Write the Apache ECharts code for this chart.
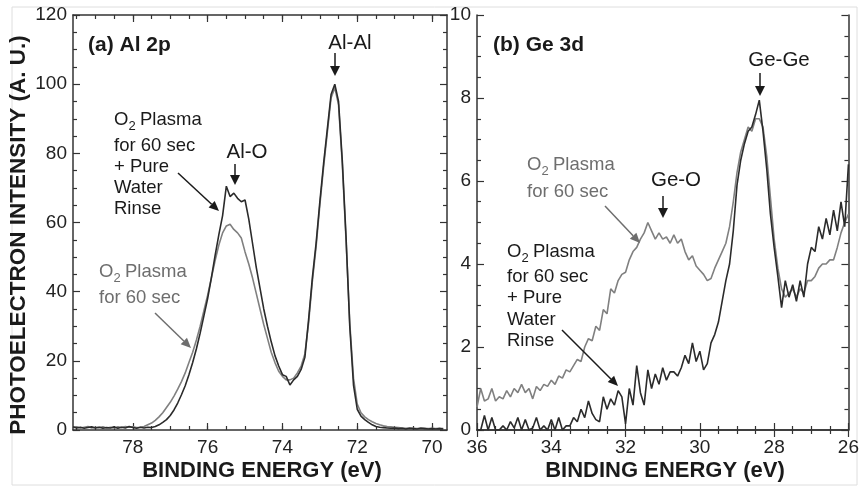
<!DOCTYPE html>
<html>
<head>
<meta charset="utf-8">
<script src="https://cdn.jsdelivr.net/npm/echarts@6/dist/echarts.min.js"></script>
<style>
  html, body { margin: 0; padding: 0; background: #fff; }
  #chart { width: 862px; height: 488px; }
</style>
</head>
<body>
<div id="chart"></div>
<script>
// (a) Al 2p -- binding energy (eV), descending
const alEnergy = [
  79.6, 79.5, 79.4, 79.3, 79.2, 79.1, 79.0, 78.9, 78.8, 78.7,
  78.6, 78.5, 78.4, 78.3, 78.2, 78.1, 78.0, 77.9, 77.8, 77.7,
  77.6, 77.5, 77.4, 77.3, 77.2, 77.1, 77.0, 76.9, 76.8, 76.7,
  76.6, 76.5, 76.4, 76.3, 76.2, 76.1, 76.0, 75.9, 75.8, 75.7,
  75.6, 75.5, 75.4, 75.3, 75.2, 75.1, 75.0, 74.9, 74.8, 74.7,
  74.6, 74.5, 74.4, 74.3, 74.2, 74.1, 74.0, 73.9, 73.8, 73.7,
  73.6, 73.5, 73.4, 73.3, 73.2, 73.1, 73.0, 72.9, 72.8, 72.7,
  72.6, 72.5, 72.4, 72.3, 72.2, 72.1, 72.0, 71.9, 71.8, 71.7,
  71.6, 71.5, 71.4, 71.3, 71.2, 71.1, 71.0, 70.9, 70.8, 70.7,
  70.6, 70.5, 70.4, 70.3, 70.2, 70.1, 70.0, 69.9, 69.8, 69.7
];
// O2 plasma 60 sec + pure water rinse
const alRinse = [
  0.9, 0.6, 0.8, 0.5, 0.7, 0.9, 0.6, 0.8, 0.5, 0.7,
  0.6, 0.9, 0.5, 0.8, 0.6, 1.0, 0.7, 0.5, 0.8, 0.6,
  0.8, 0.7, 1.0, 1.5, 2.2, 3.0, 4.2, 5.8, 7.8, 10.2,
  12.8, 16.0, 19.5, 23.5, 28.0, 33.0, 38.0, 44.0, 50.5, 56.5,
  62.0, 70.5, 67.5, 68.5, 67.0, 66.0, 66.5, 61.0, 54.0, 47.0,
  41.0, 35.0, 30.0, 25.5, 21.5, 18.5, 16.0, 15.5, 13.0, 14.5,
  15.5, 17.5, 21.0, 32.0, 44.0, 54.0, 66.0, 77.0, 87.0, 97.0,
  100.0, 95.0, 78.0, 56.0, 30.0, 13.0, 6.0, 4.0, 3.0, 2.2,
  1.5, 1.0, 0.8, 0.7, 0.6, 0.5, 0.6, 0.4, 0.5, 0.3,
  0.5, 0.4, 0.3, 0.5, 0.4, 0.3, 0.4, 0.3, 0.4, 0.3
];
// O2 plasma 60 sec
const alPlasma = [
  0.7, 0.9, 0.6, 0.8, 1.0, 0.6, 0.8, 0.7, 0.9, 0.6,
  0.8, 0.6, 0.9, 0.7, 1.0, 0.8, 0.9, 0.7, 0.8, 1.0,
  1.5, 2.0, 2.8, 3.8, 5.0, 6.5, 8.0, 9.8, 11.8, 14.0,
  16.5, 19.5, 22.5, 26.0, 30.0, 34.5, 39.0, 44.0, 49.0, 53.5,
  57.0, 59.0, 59.5, 58.0, 57.0, 55.5, 51.5, 48.0, 44.0, 39.5,
  35.0, 30.5, 26.5, 22.5, 19.5, 17.0, 15.5, 14.5, 14.5, 15.0,
  16.5, 18.5, 22.0, 31.0, 43.0, 53.0, 65.0, 76.0, 86.0, 96.0,
  99.0, 94.0, 77.0, 55.0, 31.0, 15.0, 7.5, 5.0, 3.8, 3.0,
  2.4, 1.9, 1.5, 1.2, 1.0, 0.9, 0.8, 0.7, 0.6, 0.5,
  0.6, 0.5, 0.4, 0.6, 0.5, 0.4, 0.5, 0.4, 0.5, 0.4
];

// (b) Ge 3d
const geEnergy = [
  36.0, 35.9, 35.8, 35.7, 35.6, 35.5, 35.4, 35.3, 35.2, 35.1,
  35.0, 34.9, 34.8, 34.7, 34.6, 34.5, 34.4, 34.3, 34.2, 34.1,
  34.0, 33.9, 33.8, 33.7, 33.6, 33.5, 33.4, 33.3, 33.2, 33.1,
  33.0, 32.9, 32.8, 32.7, 32.6, 32.5, 32.4, 32.3, 32.2, 32.1,
  32.0, 31.9, 31.8, 31.7, 31.6, 31.5, 31.4, 31.3, 31.2, 31.1,
  31.0, 30.9, 30.8, 30.7, 30.6, 30.5, 30.4, 30.3, 30.2, 30.1,
  30.0, 29.9, 29.8, 29.7, 29.6, 29.5, 29.4, 29.3, 29.2, 29.1,
  29.0, 28.9, 28.8, 28.7, 28.6, 28.5, 28.4, 28.3, 28.2, 28.1,
  28.0, 27.9, 27.8, 27.7, 27.6, 27.5, 27.4, 27.3, 27.2, 27.1,
  27.0, 26.9, 26.8, 26.7, 26.6, 26.5, 26.4, 26.3, 26.2, 26.1,
  26.0
];
const gePlasma = [
  0.55, 1.0, 0.7, 0.75, 1.0, 0.7, 0.8, 0.75, 0.95, 0.8,
  1.0, 0.9, 1.1, 0.9, 1.0, 0.75, 1.05, 0.95, 1.1, 1.05,
  1.2, 1.1, 1.3, 1.25, 1.45, 1.4, 1.55, 1.7, 1.65, 2.0,
  2.2, 2.15, 2.5, 2.4, 2.9, 2.8, 3.4, 3.3, 3.6, 3.75,
  3.8, 4.1, 4.3, 4.4, 4.6, 4.75, 5.0, 4.8, 4.6, 4.75,
  4.6, 4.65, 4.5, 4.7, 4.5, 4.6, 4.3, 4.1, 4.2, 3.95,
  3.85, 3.75, 3.6, 3.65, 3.9, 4.1, 4.3, 4.5, 4.9, 5.5,
  6.2, 6.7, 7.0, 7.3, 7.2, 7.5, 7.5, 7.3, 6.6, 5.6,
  4.6, 3.9, 3.4, 3.2, 3.3, 3.4, 3.2, 3.4, 3.3, 3.6,
  3.6, 3.7, 3.9, 4.0, 4.0, 4.1, 4.1, 4.4, 4.75, 5.0,
  5.2
];
const geRinse = [
  0.0, 0.0, 0.35, 0.0, 0.3, 0.0, 0.0, 0.1, 0.0, 0.2,
  0.05, 0.3, 0.0, 0.25, 0.0, 0.05, 0.3, 0.0, 0.1, 0.0,
  0.25, 0.0, 0.3, 0.0, 0.1, 0.1, 0.3, 0.2, 0.5, 0.3,
  0.7, 0.4, 0.25, 0.2, 0.8, 0.5, 0.75, 0.6, 0.95, 0.8,
  0.15, 1.0, 0.6, 1.55, 0.9, 0.6, 1.45, 1.0, 1.35, 1.1,
  1.5, 1.2, 1.4, 1.4, 1.3, 1.5, 1.8, 1.6, 2.1, 1.65,
  1.9, 1.45, 1.6, 2.1, 2.3, 2.6, 3.1, 3.6, 4.0, 4.8,
  5.9, 6.5, 6.9, 7.2, 7.3, 7.6, 7.95, 7.2, 6.3, 5.2,
  4.4, 3.7, 2.95, 3.6, 3.2, 3.5, 3.1, 3.6, 3.2, 4.0,
  4.4, 4.3, 4.9, 4.6, 5.1, 4.7, 5.3, 4.8, 5.5, 4.9,
  6.4
];

// tick values for the Al panel
const alMajorTicks = [70, 72, 74, 76, 78];
const alMinorTicks = [70, 70.5, 71, 71.5, 72, 72.5, 73, 73.5, 74, 74.5, 75, 75.5, 76, 76.5, 77, 77.5, 78, 78.5, 79, 79.5];

const DARK = '#2b2b2b';
const GRAY = '#808080';
const AXIS = '#333';
const FONT = '"Liberation Sans", Arial, sans-serif';

const chart = echarts.init(document.getElementById('chart'));

const lineAxis = { show: true, lineStyle: { color: AXIS, width: 1.5 } };
const tickLabel = { color: '#222', fontSize: 19, fontFamily: FONT };

const alX = (pos, major, labels) => ({
  type: 'value', gridIndex: 0, position: pos, min: 69.6, max: 79.6, inverse: true,
  axisLine: major ? lineAxis : { show: false },
  splitLine: { show: false },
  axisTick: {
    show: true, inside: true, length: major ? 7 : 4,
    customValues: major ? alMajorTicks : alMinorTicks,
    lineStyle: { color: AXIS, width: 1.2 }
  },
  axisLabel: labels
    ? Object.assign({ show: true, margin: 8, customValues: alMajorTicks }, tickLabel)
    : { show: false }
});

const geX = (pos, labels) => ({
  type: 'value', gridIndex: 1, position: pos, min: 26, max: 36, interval: 2, inverse: true,
  axisLine: lineAxis,
  splitLine: { show: false },
  axisTick: { show: true, inside: true, length: 7, lineStyle: { color: AXIS, width: 1.2 } },
  minorTick: { show: true, splitNumber: 4, length: 4, lineStyle: { color: AXIS, width: 1.2 } },
  axisLabel: labels ? Object.assign({ show: true, margin: 8 }, tickLabel) : { show: false }
});

const yAx = (grid, pos, max, interval, labels) => ({
  type: 'value', gridIndex: grid, position: pos, min: 0, max: max, interval: interval,
  axisLine: lineAxis,
  splitLine: { show: false },
  axisTick: { show: true, inside: true, length: 7, lineStyle: { color: AXIS, width: 1.2 } },
  minorTick: { show: true, splitNumber: 4, length: 4, lineStyle: { color: AXIS, width: 1.2 } },
  axisLabel: labels ? Object.assign({ show: true, margin: 6 }, tickLabel) : { show: false }
});

const pairs = (xs, ys) => xs.map((x, i) => [x, ys[i]]);

const lineSeries = (name, xi, yi, xs, ys, color, z) => ({
  name: name, type: 'line', xAxisIndex: xi, yAxisIndex: yi,
  data: pairs(xs, ys), showSymbol: false, symbol: 'none', z: z,
  lineStyle: { color: color, width: 1.6 }, animation: false
});

// annotation helpers
const ANN = 18.5;
const txt = (x, y, s, o) => ({
  type: 'text', z: 50,
  style: Object.assign({
    x: x, y: y, text: s, fill: '#1a1a1a', fontSize: ANN, fontFamily: FONT,
    textAlign: 'left', textVerticalAlign: 'middle'
  }, o || {})
});
// "O2 Plasma" with subscript
const o2 = (x, y, fill) => [
  txt(x, y, 'O', { fill: fill }),
  txt(x + 14.6, y + 6, '2', { fill: fill, fontSize: 13 }),
  txt(x + 26, y, 'Plasma', { fill: fill })
];
const arrow = (x1, y1, x2, y2, color, hl, hw) => {
  const a = Math.atan2(y2 - y1, x2 - x1);
  const L = hl || 10, W = hw || 4.5;
  const bx = x2 - L * Math.cos(a), by = y2 - L * Math.sin(a);
  const nx = -Math.sin(a) * W, ny = Math.cos(a) * W;
  return [
    { type: 'line', z: 50, shape: { x1: x1, y1: y1, x2: bx, y2: by }, style: { stroke: color, lineWidth: 1.5 } },
    { type: 'polygon', z: 50, shape: { points: [[x2, y2], [bx + nx, by + ny], [bx - nx, by - ny]] }, style: { fill: color } }
  ];
};

const yTitle = {
  type: 'text', z: 50, x: 19, y: 235, rotation: Math.PI / 2,
  style: {
    x: 0, y: 0, text: 'PHOTOELECTRON INTENSITY (A. U.)', fill: '#1a1a1a',
    fontSize: 22.5, fontWeight: 'bold', fontFamily: FONT,
    textAlign: 'center', textVerticalAlign: 'middle'
  }
};

const graphics = [].concat(
  [{ type: 'rect', z: 0, shape: { x: 12, y: 7, width: 845, height: 478 }, style: { fill: null, stroke: '#dedede', lineWidth: 1 } }],
  [yTitle],
  [txt(262, 471, 'BINDING ENERGY (eV)', { fontSize: 22, fontWeight: 'bold', textAlign: 'center' })],
  [txt(665, 471, 'BINDING ENERGY (eV)', { fontSize: 22, fontWeight: 'bold', textAlign: 'center' })],
  // panel (a)
  [txt(88, 45, '(a) Al 2p', { fontSize: 21, fontWeight: 'bold' })],
  [txt(350, 43, 'Al-Al', { fontSize: 20.5, textAlign: 'center' })],
  arrow(335, 53, 335, 76, '#1a1a1a', 10, 5),
  o2(114, 120, '#1a1a1a'),
  [txt(114, 146, 'for 60 sec')],
  [txt(114, 167, '+ Pure')],
  [txt(114, 188, 'Water')],
  [txt(114, 209, 'Rinse')],
  arrow(178, 173, 219, 211, '#1a1a1a', 10, 4.5),
  [txt(247, 152, 'Al-O', { fontSize: 20.5, textAlign: 'center' })],
  arrow(235, 164, 235, 185, '#1a1a1a', 10, 5),
  o2(99, 272, '#6e6e6e'),
  [txt(99, 298, 'for 60 sec', { fill: '#6e6e6e' })],
  arrow(155, 313, 191, 348, '#6e6e6e', 10, 4.5),
  // panel (b)
  [txt(493, 45, '(b) Ge 3d', { fontSize: 21, fontWeight: 'bold' })],
  [txt(779, 60, 'Ge-Ge', { fontSize: 20.5, textAlign: 'center' })],
  arrow(760, 73, 760, 96, '#1a1a1a', 10, 5),
  o2(527, 165, '#6e6e6e'),
  [txt(527, 192, 'for 60 sec', { fill: '#6e6e6e' })],
  arrow(605, 206, 640, 243, '#6e6e6e', 10, 4.5),
  [txt(676, 180, 'Ge-O', { fontSize: 20.5, textAlign: 'center' })],
  arrow(663, 196, 663, 218, '#1a1a1a', 10, 5),
  o2(507, 252, '#1a1a1a'),
  [txt(507, 277, 'for 60 sec')],
  [txt(507, 298, '+ Pure')],
  [txt(507, 320, 'Water')],
  [txt(507, 341, 'Rinse')],
  arrow(562, 330, 618, 386, '#1a1a1a', 10, 4.5)
);

const option = {
  backgroundColor: '#fff',
  animation: false,
  grid: [
    { left: 73, top: 15, width: 374, height: 415 },
    { left: 477, top: 15, width: 375, height: 415 }
  ],
  xAxis: [
    alX('bottom', true, true),
    alX('bottom', false, false),
    alX('top', true, false),
    alX('top', false, false),
    geX('bottom', true),
    geX('top', false)
  ],
  yAxis: [
    yAx(0, 'left', 120, 20, true),
    yAx(0, 'right', 120, 20, false),
    yAx(1, 'left', 10, 2, true),
    yAx(1, 'right', 10, 2, false)
  ],
  series: [
    lineSeries('Al O2 plasma', 0, 0, alEnergy, alPlasma, GRAY, 2),
    lineSeries('Al O2 plasma + rinse', 0, 0, alEnergy, alRinse, DARK, 3),
    lineSeries('Ge O2 plasma', 4, 2, geEnergy, gePlasma, GRAY, 2),
    lineSeries('Ge O2 plasma + rinse', 4, 2, geEnergy, geRinse, DARK, 3)
  ],
  graphic: graphics
};

chart.setOption(option);
</script>
</body>
</html>
